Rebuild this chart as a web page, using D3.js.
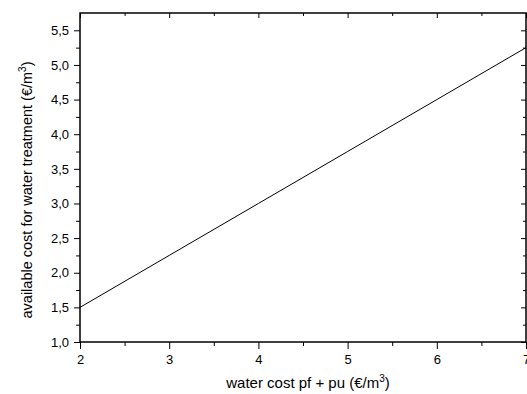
<!DOCTYPE html>
<html>
<head>
<meta charset="utf-8">
<script src="https://cdn.jsdelivr.net/npm/d3@7"></script>
<style>
  body { margin: 0; background: #fff; }
  text { font-family: 'Liberation Sans', Arial, sans-serif; }
</style>
</head>
<body>
<div id="chart"></div>
<script>
// water cost pf + pu (€/m3)
const waterCost = [2, 3, 4, 5, 6, 7]
// available cost for water treatment (€/m3)
const availableCost = [1.5, 2.25, 3.0, 3.75, 4.5, 5.25]
const xTicks = [2, 3, 4, 5, 6, 7]
const yTicks = [1.0, 1.5, 2.0, 2.5, 3.0, 3.5, 4.0, 4.5, 5.0, 5.5]

const margin = { top: 13, left: 80, right: 1, bottom: 52 }
const width = 527 - margin.left - margin.right
const height = 394 - margin.top - margin.bottom

const svg = d3.select('#chart')
  .append('svg')
  .attr('width', 527)
  .attr('height', 394)
  .append('g')
  .attr('transform', 'translate(' + margin.left + ',' + margin.top + ')')

const x = d3.scaleLinear().domain([2, 7]).range([0, width])
const y = d3.scaleLinear().domain([1, 5.75]).range([height, 0])

const fmt = d => d3.format('.1f')(d).replace('.', ',')

function styleAxis (g) {
  g.select('.domain').remove()
  g.selectAll('line').attr('stroke', '#000').attr('stroke-width', 1)
  g.selectAll('text').attr('font-size', 13).attr('fill', '#000')
}

// minor ticks
const xMinor = d3.range(2.5, 7, 1)
const yMinor = d3.range(1.25, 5.75, 0.5)

// bottom axis
svg.append('g')
  .attr('transform', 'translate(0,' + height + ')')
  .call(d3.axisBottom(x).tickValues(xTicks).tickSize(7).tickPadding(6).tickFormat(d3.format('d')))
  .call(styleAxis)
svg.append('g')
  .attr('transform', 'translate(0,' + height + ')')
  .call(d3.axisBottom(x).tickValues(xMinor).tickSize(4).tickFormat(''))
  .call(styleAxis)

// left axis
svg.append('g')
  .call(d3.axisLeft(y).tickValues(yTicks).tickSize(6).tickPadding(5).tickFormat(fmt))
  .call(styleAxis)
svg.append('g')
  .call(d3.axisLeft(y).tickValues(yMinor).tickSize(4).tickFormat(''))
  .call(styleAxis)

// top axis, inward ticks
svg.append('g')
  .call(d3.axisTop(x).tickValues(xTicks).tickSize(-5).tickFormat(''))
  .call(styleAxis)
svg.append('g')
  .call(d3.axisTop(x).tickValues(xMinor).tickSize(-3).tickFormat(''))
  .call(styleAxis)

// right axis, inward ticks
svg.append('g')
  .attr('transform', 'translate(' + width + ',0)')
  .call(d3.axisRight(y).tickValues(yTicks).tickSize(-5).tickFormat(''))
  .call(styleAxis)
svg.append('g')
  .attr('transform', 'translate(' + width + ',0)')
  .call(d3.axisRight(y).tickValues(yMinor).tickSize(-3).tickFormat(''))
  .call(styleAxis)

// frame
svg.append('rect')
  .attr('x', 0)
  .attr('y', 0)
  .attr('width', width)
  .attr('height', height)
  .attr('fill', 'none')
  .attr('stroke', '#000')
  .attr('stroke-width', 1.5)

// data line
const line = d3.line()
  .x((d, i) => x(waterCost[i]))
  .y(d => y(d))

svg.append('path')
  .datum(availableCost)
  .attr('d', line)
  .attr('fill', 'none')
  .attr('stroke', '#000')
  .attr('stroke-width', 1)

// axis labels
const xLabel = svg.append('text')
  .attr('x', 228)
  .attr('y', height + 46)
  .attr('text-anchor', 'middle')
  .attr('font-size', 15)
xLabel.append('tspan').text('water cost pf + pu (€/m')
xLabel.append('tspan').attr('font-size', 10).attr('dy', -6).text('3')
xLabel.append('tspan').attr('dy', 6).text(')')

const yLabel = svg.append('text')
  .attr('transform', 'rotate(-90)')
  .attr('x', -177)
  .attr('y', -margin.left + 32)
  .attr('text-anchor', 'middle')
  .attr('font-size', 14.5)
yLabel.append('tspan').text('available cost for water treatment (€/m')
yLabel.append('tspan').attr('font-size', 10).attr('dy', -6).text('3')
yLabel.append('tspan').attr('dy', 6).text(')')
</script>
</body>
</html>
